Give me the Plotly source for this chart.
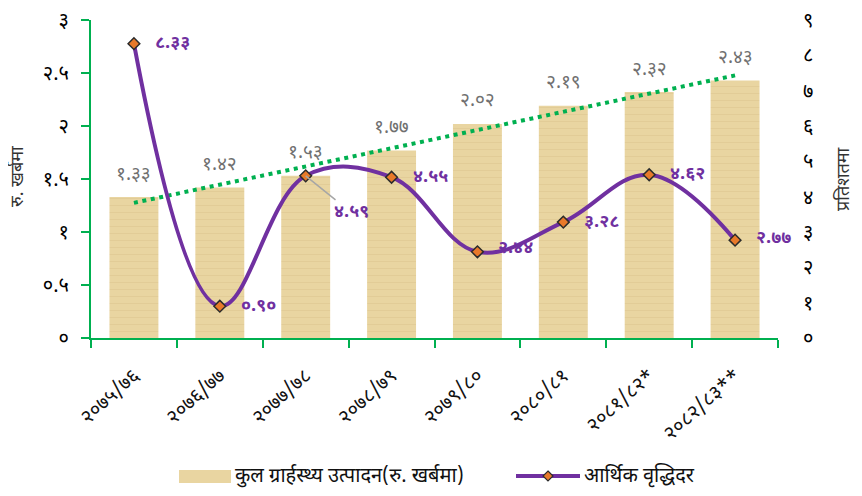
import numpy as np
import plotly.graph_objects as go

categories = ["२०७५/७६", "२०७६/७७", "२०७७/७८", "२०७८/७९", "२०७९/८०", "२०८०/८१", "२०८१/८२*", "२०८२/८३**"]
gdp = [1.33, 1.42, 1.53, 1.77, 2.02, 2.19, 2.32, 2.43]
growth = [8.33, 0.90, 4.59, 4.55, 2.44, 3.28, 4.62, 2.77]
left_ticks = [0, 0.5, 1, 1.5, 2, 2.5, 3]
right_ticks = list(range(10))
bar_name = "कुल ग्रार्हस्थ्य उत्पादन(रु. खर्बमा)"
line_name = "आर्थिक वृद्धिदर"

DEV = str.maketrans("0123456789", "०१२३४५६७८९")
def dev(v, fmt="{:.2f}"):
    return fmt.format(v).translate(DEV)

FONT = "Noto Sans Devanagari, Lohit Devanagari, Mukta, Noto Sans, DejaVu Sans, sans-serif"
PURPLE = "#7030A0"
GREEN = "#00B050"
BAR = "#E9D5A1"

# page body adds an 8px margin; the figure is sized so it fits the 862x496 window
OFF = 8
W, H = 862 - OFF, 496 - OFF
ML, MT = 91 - OFF, 20 - OFF
MR = W - (778 - OFF)
MB = H - (338 - OFF)
PW, PH = W - ML - MR, H - MT - MB
def px(x):  # x in window pixels -> paper fraction
    return (x - OFF - ML) / PW
def py(y):
    return (H - MB - (y - OFF)) / PH

idx = list(range(len(categories)))
slope, intercept = np.polyfit(idx, gdp, 1)
trend = [intercept + slope * i for i in idx]

fig = go.Figure()
fig.add_trace(go.Bar(
    x=categories, y=gdp, name=bar_name, showlegend=False,
    marker=dict(color=BAR, line=dict(width=0),
                pattern=dict(shape="-", fgcolor="#C9AE78", fgopacity=0.25, size=7, solidity=0.15)),
    yaxis="y", hoverinfo="skip",
))
fig.add_trace(go.Scatter(
    x=categories, y=trend, mode="lines", showlegend=False,
    line=dict(color=GREEN, width=4, dash="4px,4.6px"), yaxis="y",
))
fig.add_trace(go.Scatter(
    x=categories, y=growth, name=line_name, mode="lines+markers", showlegend=False,
    line=dict(color=PURPLE, width=4, shape="spline", smoothing=1.1),
    marker=dict(symbol="diamond", size=9, color="#E8792A", line=dict(color="#2b2b2b", width=1.5)),
    yaxis="y2",
))

annotations = []
for c, v in zip(categories, gdp):
    annotations.append(dict(x=c, y=v, xref="x", yref="y", text=dev(v), showarrow=False,
                            yanchor="middle", yshift=22,
                            font=dict(family=FONT, size=19, color="#707070")))
yshifts = [0, 0, 0, 0, 3, 0, 0, 2]
for i, (c, v) in enumerate(zip(categories, growth)):
    if i == 2:
        annotations.append(dict(x=c, y=v, xref="x", yref="y2", text="<b>" + dev(v) + "</b>",
                                showarrow=True, arrowhead=0, arrowwidth=1.5, arrowcolor="#a6a6a6",
                                ax=46, ay=37, font=dict(family=FONT, size=18, color=PURPLE)))
    else:
        annotations.append(dict(x=c, y=v, xref="x", yref="y2", text="<b>" + dev(v) + "</b>",
                                showarrow=False, xanchor="left", xshift=19, yshift=yshifts[i],
                                font=dict(family=FONT, size=18, color=PURPLE)))

# axis titles
annotations.append(dict(x=px(18), y=py(177), xref="paper", yref="paper", text="रु. खर्बमा", textangle=-90,
                        showarrow=False, xanchor="center", yanchor="middle",
                        font=dict(family=FONT, size=18, color="#333")))
annotations.append(dict(x=px(844), y=py(180), xref="paper", yref="paper", text="प्रतिशतमा", textangle=-90,
                        showarrow=False, xanchor="center", yanchor="middle",
                        font=dict(family=FONT, size=18, color="#333")))

# legend (drawn manually)
annotations.append(dict(x=px(233), y=py(477), xref="paper", yref="paper", text=bar_name,
                        showarrow=False, xanchor="left", yanchor="middle",
                        font=dict(family=FONT, size=20, color="#111")))
annotations.append(dict(x=px(582), y=py(476), xref="paper", yref="paper", text=line_name,
                        showarrow=False, xanchor="left", yanchor="middle",
                        font=dict(family=FONT, size=20, color="#111")))

shapes = [
    dict(type="rect", xref="paper", yref="paper", x0=px(179), x1=px(231), y0=py(483), y1=py(470),
         fillcolor=BAR, line=dict(width=0), layer="above"),
    dict(type="line", xref="paper", yref="paper", x0=px(516), x1=px(580), y0=py(476), y1=py(476),
         line=dict(color=PURPLE, width=4), layer="above"),
    dict(type="path", xref="paper", yref="paper",
         path="M {a},{b} L {c},{d} L {a},{e} L {f},{d} Z".format(
             a=px(548), b=py(471), c=px(553), d=py(476), e=py(481), f=px(543)),
         fillcolor="#E8792A", line=dict(color="#2b2b2b", width=1.2), layer="above"),
]

fig.update_layout(
    width=W, height=H,
    margin=dict(l=ML, r=MR, t=MT, b=MB, autoexpand=False),
    paper_bgcolor="white", plot_bgcolor="white",
    bargap=0.43,
    font=dict(family=FONT, size=16, color="#000"),
    showlegend=False,
    xaxis=dict(type="category", range=[-0.5, len(categories) - 0.5], autorange=False,
               showline=True, linecolor=GREEN, linewidth=2,
               ticks="outside", tickcolor=GREEN, tickwidth=1.5, ticklen=8, tickson="boundaries",
               tickangle=-42, ticklabelstandoff=16, tickfont=dict(family=FONT, size=20, color="#111"),
               showgrid=False, zeroline=False, automargin=False),
    yaxis=dict(range=[0, 3], tickvals=left_ticks, ticktext=[dev(t, "{:g}") for t in left_ticks],
               showline=True, linecolor=GREEN, linewidth=2, ticks="outside", tickcolor=GREEN,
               tickwidth=1.5, ticklen=8, showgrid=False, zeroline=False, automargin=False,
               ticklabelstandoff=8,
               tickfont=dict(family=FONT, size=20, color="#000")),
    yaxis2=dict(range=[0, 9], tickvals=right_ticks, ticktext=[dev(t, "{:d}") for t in right_ticks],
                overlaying="y", side="right", showline=False, showgrid=False, zeroline=False,
                ticks="", ticklabelstandoff=24, automargin=False,
                tickfont=dict(family=FONT, size=20, color="#000")),
    annotations=annotations,
    shapes=shapes,
)

fig.write_html("out.html")
